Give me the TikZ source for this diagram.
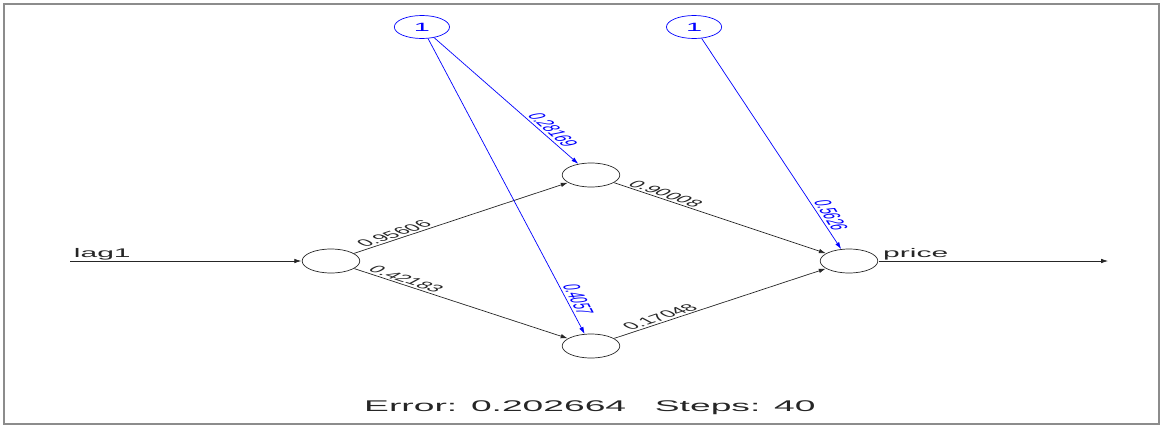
\documentclass[tikz,border=0pt]{standalone}
\usepackage{fontspec}
\setmainfont{Liberation Sans}
\usetikzlibrary{arrows.meta}
\tikzset{
  neuron/.style={circle, draw=black!85, line width=0.7pt, minimum size=24pt, inner sep=0pt},
  biasnode/.style={circle, draw=blue, line width=0.7pt, text=blue, minimum size=23pt, inner sep=0pt,
    font=\fontsize{12}{13}\selectfont},
  wire/.style={draw=black!85, line width=0.7pt, -{Latex[length=7pt,width=4.5pt]}},
  biaswire/.style={draw=blue, line width=0.7pt, -{Latex[length=7pt,width=4.5pt]}},
  weight/.style={font=\fontsize{10}{11}\selectfont, text=black!85, inner sep=1pt, anchor=south},
  bweight/.style={weight, text=blue},
  iolabel/.style={font=\fontsize{12.5}{13}\selectfont, text=black!85, inner sep=1pt, anchor=south west},
  frame/.style={draw=black!45, line width=1.2pt},
}
\begin{document}
\begin{tikzpicture}[x=1pt, y=-1pt]
\useasboundingbox (0,0) rectangle (1163,426);
\draw[frame] (4,4) rectangle (1159,424);
% the plot is set in its own units and then stretched horizontally
\begin{scope}[xscale=2.4, transform shape]
  % neurons
  \node[neuron] (in)  at (137.9,261) {};
  \node[neuron] (h1)  at (246.25,175) {};
  \node[neuron] (h2)  at (246.25,346) {};
  \node[neuron] (out) at (353.75,261) {};
  % bias neurons
  \node[biasnode] (b1) at (175.8,27) {1};
  \node[biasnode] (b2) at (289.2,27) {1};
  % input and output ends
  \coordinate (src) at (29.2,261);
  \coordinate (dst) at (461.7,261);
  \node[iolabel] (lag) at (29.6,261) {lag1};
  \node[iolabel] (price) at (366.8,261) {price};
  % weights
  \draw[wire] (src) -- (in);
  \draw[wire] (out) -- (dst);
  \draw[wire] (in) -- node[weight, pos=0.22, rotate=38.45] {0.95606} (h1);
  \draw[wire] (in) -- node[weight, pos=0.21, rotate=-38.1] {0.42183} (h2);
  \draw[wire] (h1) -- node[weight, pos=0.21, rotate=-38.66] {0.90008} (out);
  \draw[wire] (h2) -- node[weight, pos=0.25, rotate=38.3] {0.17048} (out);
  \draw[biaswire] (b1) -- node[bweight, pos=0.75, rotate=-64.56] {0.28169} (h1);
  \draw[biaswire] (b1) -- node[bweight, pos=0.886, rotate=-77.55] {0.4057} (h2);
  \draw[biaswire] (b2) -- node[bweight, pos=0.846, rotate=-74.57] {0.5626} (out);
  % summary line
  \node[font=\fontsize{15.5}{16}\selectfont, text=black!85] (err) at (245.8,408)
    {Error: 0.202664\hspace{12pt}Steps: 40};
\end{scope}
\end{tikzpicture}
\end{document}
